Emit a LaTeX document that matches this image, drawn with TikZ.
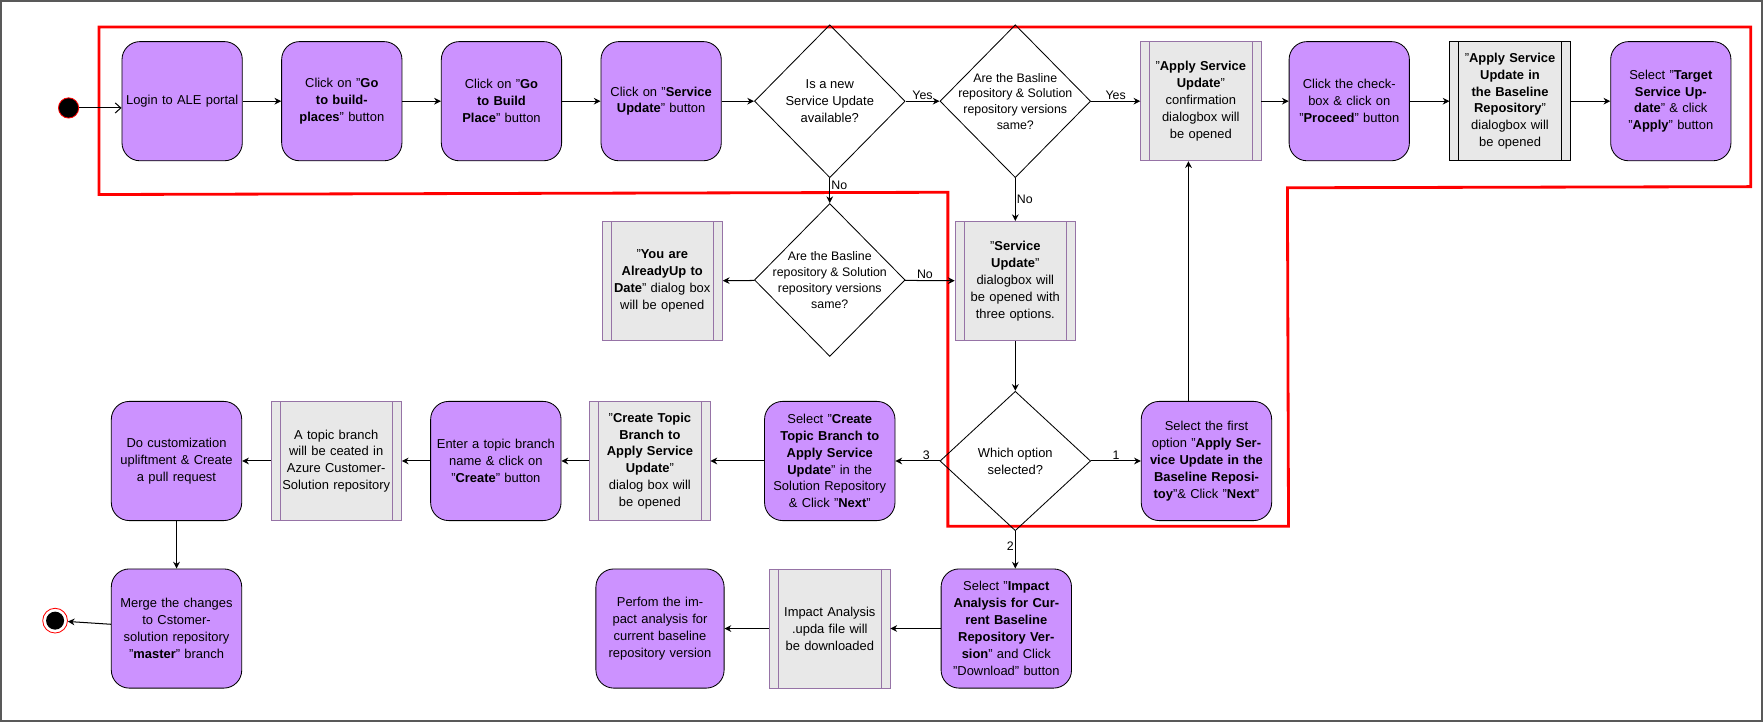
\documentclass[tikz,border=0pt]{standalone}
\usepackage{fontspec}
\setmainfont{Liberation Sans}
\usetikzlibrary{shapes.geometric,arrows.meta}
\definecolor{actfill}{HTML}{CC92FF}
\definecolor{dlgfill}{HTML}{E8E8E8}
\definecolor{dlgline}{HTML}{9673A6}
\tikzset{
  every picture/.style={line width=0.75pt},
  txt/.style={font=\fontsize{11.5}{15}\selectfont, align=center},
  act/.style={txt, draw, fill=actfill, rounded corners=16pt, minimum width=107, minimum height=106, text width=100, inner sep=2pt},
  dlg/.style={txt, draw=dlgline, fill=dlgfill, minimum width=107, minimum height=106, text width=88, inner sep=2pt,
    path picture={\draw[dlgline] ([xshift=8]path picture bounding box.north west) -- ([xshift=8]path picture bounding box.south west);
                  \draw[dlgline] ([xshift=-8]path picture bounding box.north east) -- ([xshift=-8]path picture bounding box.south east);}},
  dec/.style={draw, diamond, inner sep=0pt, minimum width=134, minimum height=136},
  lbl/.style={font=\fontsize{11}{13}\selectfont, inner sep=1pt},
  flow/.style={-{Stealth[length=6pt,width=6pt]}, line width=0.9pt},
}
\begin{document}
\begin{tikzpicture}[x=1pt,y=1pt,yscale=-1]
\useasboundingbox (0,0) rectangle (1568,642);
\draw[gray!70!black, line width=1.5pt] (1,1) rectangle (1567,641);

%red region
\draw[red, line width=2.5pt] (88,24) -- (1557,24) -- (1557,166) -- (1145,167) -- (1146,468) -- (843,468) -- (843,171) -- (88,173) -- cycle;

%start / end
\node (start) [circle, draw=red, fill=black, minimum size=18, inner sep=0pt] at (61,96) {};
\node (stop) [circle, draw=red, fill=white, minimum size=22, inner sep=0pt] at (49,552) {};
\node [circle, fill=black, minimum size=16, inner sep=0pt] at (stop) {};

%row 1
\node (login) [act] at (162,90) {Login to ALE portal};
\node (gobp) [act] at (304,90) {Click on "\textbf{Go to buildplaces}" button};
\node (gobuild) [act] at (446,90) {Click on "\textbf{Go to Build Place}" button};
\node (clksu) [act] at (588,90) {Click on "\textbf{Service Update}" button};
\node (isnew) [dec, label={[txt]center:Is a new\\Service Update\\available?}] at (738,90) {};
\node (same1) [dec, label={[txt, font=\fontsize{11}{14}\selectfont]center:Are the Basline\\repository \& Solution\\repository versions\\same?}] at (903,90) {};
\node (applyconf) [dlg] at (1068,90) {"\textbf{Apply Service Update}" confirmation dialogbox will be opened};
\node (proceed) [act] at (1200,90) {Click the checkbox \& click on "\textbf{Proceed}" button};
\node (applybase) [dlg, draw=black, path picture={\draw ([xshift=8]path picture bounding box.north west) -- ([xshift=8]path picture bounding box.south west); \draw ([xshift=-8]path picture bounding box.north east) -- ([xshift=-8]path picture bounding box.south east);}] at (1343,90) {"\textbf{Apply Service Update in the Baseline Repository}" dialogbox will be opened};
\node (target) [act] at (1486,90) {Select "\textbf{Target Service Update}" \& click "\textbf{Apply}" button};

%row 2
\node (same2) [dec, label={[txt, font=\fontsize{11}{14}\selectfont]center:Are the Basline\\repository \& Solution\\repository versions\\same?}] at (738,249) {};
\node (uptodate) [dlg] at (589,250) {"\textbf{You are AlreadyUp to Date}" dialog box will be opened};
\node (sudlg) [dlg] at (903,250) {"\textbf{Service Update}" dialogbox will be opened with three options.};

%row 3
\node (which) [dec, minimum height=124, label={[txt]center:Which option\\selected?}] at (903,410) {};
\node (first) [act, minimum width=116, text width=108] at (1073,410) {Select the first option "\textbf{Apply Service Update in the Baseline Repositoy}"\& Click "\textbf{Next}"};
\node (seltopic) [act, minimum width=116, text width=108] at (738,410) {Select "\textbf{Create Topic Branch to Apply Service Update}" in the Solution Repository \& Click "\textbf{Next}"};
\node (topicdlg) [dlg] at (578,410) {"\textbf{Create Topic Branch to Apply Service Update}" dialog box will be opened};
\node (enter) [act, minimum width=116, text width=110] at (441,410) {Enter a topic branch name \& click on "\textbf{Create}" button};
\node (created) [dlg, minimum width=116, text width=96] at (299,410) {A topic branch will be ceated in Azure Customer-Solution repository};
\node (custom) [act, minimum width=116, text width=110] at (157,410) {Do customization upliftment \& Create a pull request};

%row 4
\node (merge) [act, minimum width=116, text width=112] at (157,559) {Merge the changes to Cstomer-solution repository "\textbf{master}" branch};
\node (impact) [act, minimum width=116, text width=110] at (895,559) {Select "\textbf{Impact Analysis for Current Baseline Repository Version}" and Click "Download" button};
\node (upda) [dlg] at (738,559) {Impact Analysis .upda file will be downloaded};
\node (perform) [act, minimum width=114, text width=110] at (587,559) {Perfom the impact analysis for current baseline repository version};

%connectors
\draw[-{Straight Barb[length=5pt,width=9pt]}, line width=0.9pt] (start) -- (login.west |- start);
\draw[flow] (login) -- (gobp);
\draw[flow] (gobp) -- (gobuild);
\draw[flow] (gobuild) -- (clksu);
\draw[flow] (clksu) -- (isnew);
\draw[flow] (isnew) -- node[lbl, above]{Yes} (same1);
\draw[flow] (same1) -- node[lbl, above]{Yes} (applyconf);
\draw[flow] (applyconf) -- (proceed);
\draw[flow] (proceed) -- (applybase);
\draw[flow] (applybase) -- (target);
\draw[flow] (isnew) -- node[lbl, right, pos=0.3]{No} (same2);
\draw[flow] (same1) -- node[lbl, right]{No} (sudlg);
\draw[flow] (same2) -- (uptodate);
\draw[flow] (same2) -- node[lbl, above, pos=0.4]{No} (sudlg);
\draw[flow] (sudlg) -- (which);
\draw[flow] (which) -- node[lbl, above]{1} (first);
\draw[flow] (which) -- node[lbl, above, pos=0.3]{3} (seltopic);
\draw[flow] (which) -- node[lbl, left, pos=0.4]{2} (impact.north -| which);
\draw[flow] (first.north -| applyconf.south) ++(-11,0) coordinate (fup) -- (fup |- applyconf.south);
\draw[flow] (seltopic) -- (topicdlg);
\draw[flow] (topicdlg) -- (enter);
\draw[flow] (enter) -- (created);
\draw[flow] (created) -- (custom);
\draw[flow] (custom) -- (merge);
\draw[flow] (merge) -- (stop);
\draw[flow] (impact.west |- upda) -- (upda);
\draw[flow] (upda) -- (perform);
\end{tikzpicture}
\end{document}
